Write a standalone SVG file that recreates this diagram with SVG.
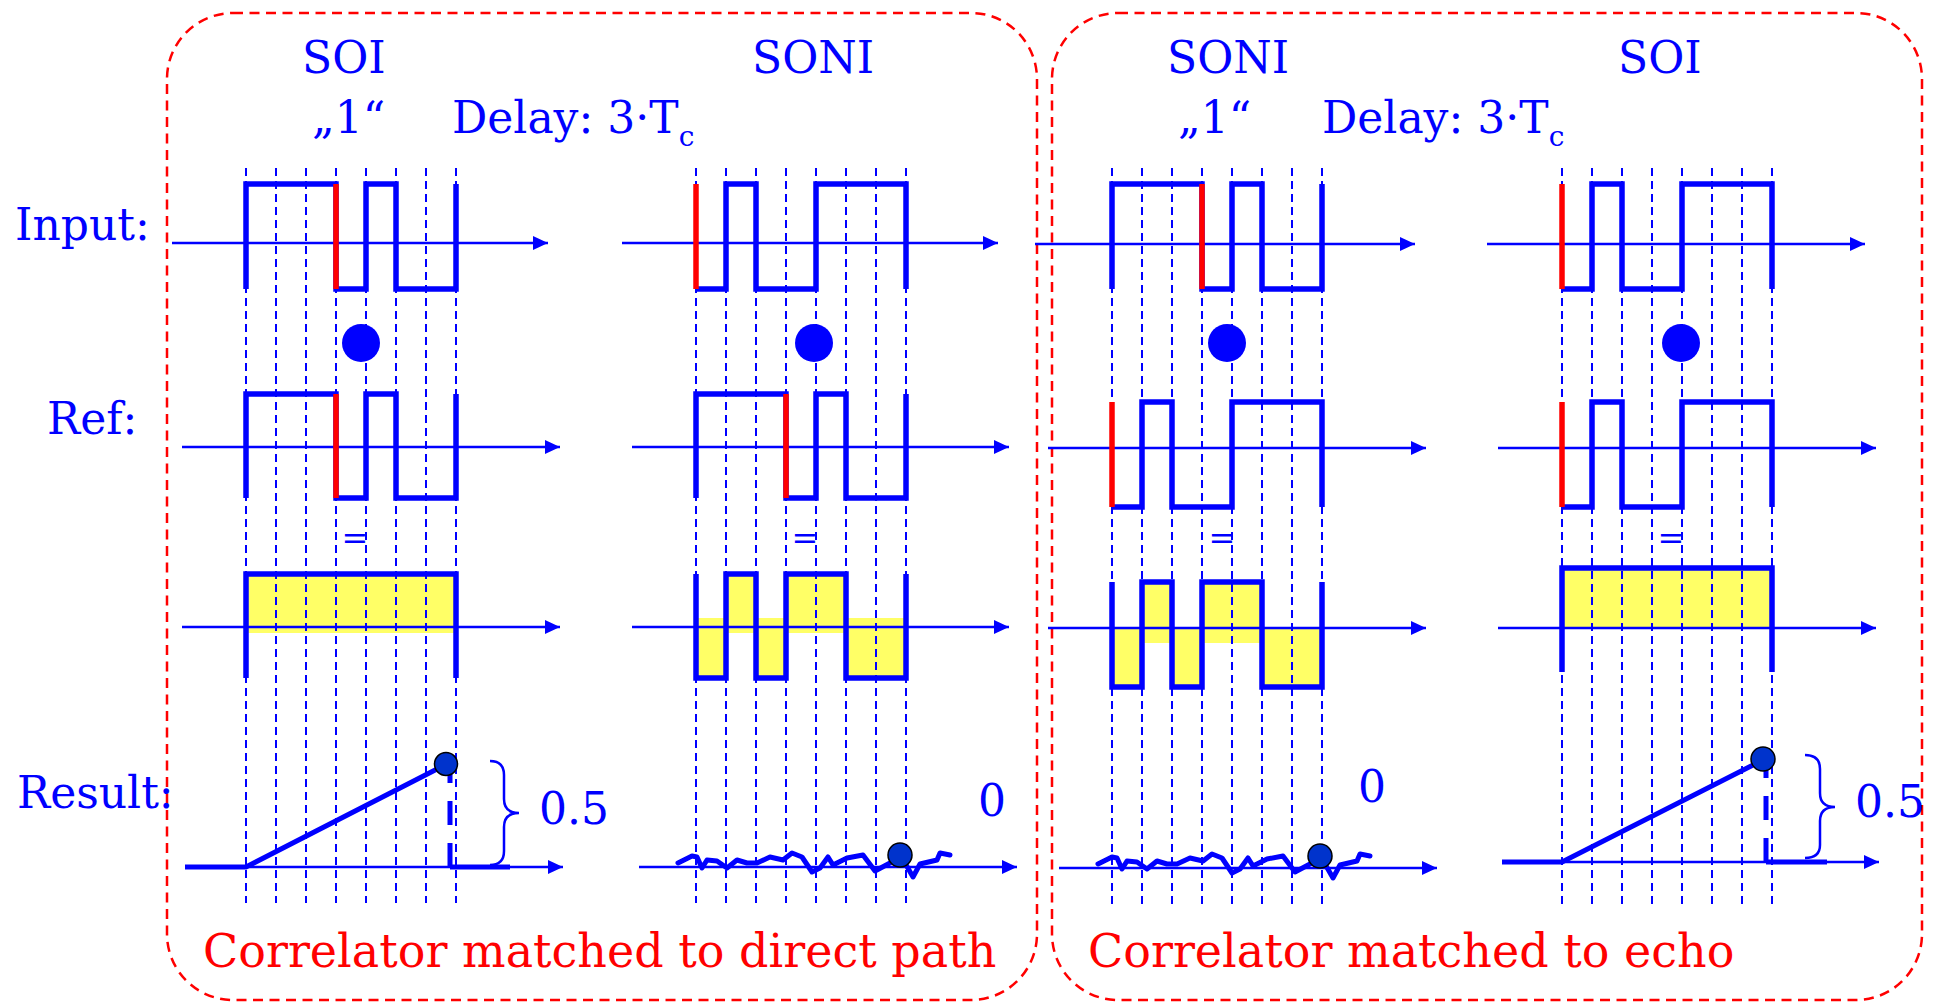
<svg xmlns="http://www.w3.org/2000/svg" width="1937" height="1003" viewBox="0 0 1937 1003">
<defs>
<marker id="arr" markerUnits="userSpaceOnUse" markerWidth="16" markerHeight="14" refX="15" refY="7" orient="auto"><path d="M0,0 L15,7 L0,14 z" fill="#0000ff"/></marker>
<style>
.box{fill:none;stroke:#ff0000;stroke-width:2.5;stroke-dasharray:10 6.5}
.grid{stroke:#0000ff;stroke-width:2;stroke-dasharray:8 5}
.ax{stroke:#0000ff;stroke-width:2.5;marker-end:url(#arr)}
.wave{fill:none;stroke:#0000ff;stroke-width:5.5;stroke-linejoin:miter;stroke-linecap:butt}
.red{stroke:#ff0000;stroke-width:5.5}
.yel{fill:#ffff66}
.mul{fill:#0000ff}
.t{font-family:"DejaVu Serif","Liberation Serif",serif;font-size:44px;fill:#0000ff}
.eq{font-family:"DejaVu Serif","Liberation Serif",serif;font-size:32px;fill:#0000ff;text-anchor:middle}
.cap{font-family:"DejaVu Serif","Liberation Serif",serif;font-size:46px;fill:#ff0000}
.thick{stroke:#0000ff;stroke-width:5;fill:none}
.tdash{stroke:#0000ff;stroke-width:5;stroke-dasharray:24 18}
.rdot{fill:#0033cc;stroke:#000;stroke-width:1.5}
.noise{fill:none;stroke:#0000ff;stroke-width:5;stroke-linejoin:round;stroke-linecap:round}
.brace{fill:none;stroke:#0000ff;stroke-width:2.5}
</style>
</defs>

<g id="frames">
<rect class="box" x="167" y="13" width="870" height="987" rx="66" ry="66"/>
<rect class="box" x="1052" y="13" width="870" height="987" rx="66" ry="66"/>
</g>

<g id="row-labels">
<text class="t" x="15" y="240">Input:</text>
<text class="t" x="47" y="434">Ref:</text>
<text class="t" x="17" y="808">Result:</text>
</g>

<g id="headers">
<text class="t" x="302" y="73">SOI</text>
<text class="t" x="312" y="133">„1“</text>
<text class="t" x="452" y="133">Delay: 3·T<tspan font-size="28" dy="13">c</tspan></text>
<text class="t" x="752" y="73">SONI</text>
<text class="t" x="1167" y="73">SONI</text>
<text class="t" x="1178" y="133">„1“</text>
<text class="t" x="1322" y="133">Delay: 3·T<tspan font-size="28" dy="13">c</tspan></text>
<text class="t" x="1618" y="73">SOI</text>
</g>

<!-- Panel 1 -->
<g id="panel1">
<rect class="yel" x="246" y="574" width="210" height="59"/>
<g class="grid">
<line x1="246" y1="168" x2="246" y2="903"/><line x1="276" y1="168" x2="276" y2="903"/><line x1="306" y1="168" x2="306" y2="903"/><line x1="336" y1="168" x2="336" y2="903"/><line x1="366" y1="168" x2="366" y2="903"/><line x1="396" y1="168" x2="396" y2="903"/><line x1="426" y1="168" x2="426" y2="903"/><line x1="456" y1="168" x2="456" y2="903"/>
</g>
<line class="ax" x1="172" y1="243" x2="548" y2="243"/>
<path class="wave" d="M246 289 V184 H336 V289 H366 V184 H396 V289 H456 V184"/>
<line class="red" x1="336" y1="184" x2="336" y2="289"/>
<circle class="mul" cx="361" cy="343" r="19"/>
<line class="ax" x1="182" y1="447" x2="560" y2="447"/>
<path class="wave" d="M246 498 V394 H336 V498 H366 V394 H396 V498 H456 V394"/>
<line class="red" x1="336" y1="394" x2="336" y2="498"/>
<text class="eq" x="355" y="549">=</text>
<line class="ax" x1="182" y1="627" x2="560" y2="627"/>
<path class="wave" d="M246 678 V574 H456 V678"/>
<line class="ax" x1="185" y1="867" x2="563" y2="867"/>
<path class="thick" d="M185 867 H246 L441 767"/>
<line class="tdash" x1="450" y1="867" x2="450" y2="770"/>
<line class="thick" x1="450" y1="867" x2="510" y2="867"/>
<circle class="rdot" cx="446" cy="764" r="11.5"/>
<path class="brace" d="M490 761 Q504 761 504 775 L504 799 Q504 813 519 813 Q504 813 504 827 L504 851 Q504 865 490 865"/>
<text class="t" x="539" y="824">0.5</text>
</g>

<!-- Panel 2 -->
<g id="panel2">
<rect class="yel" x="696" y="618" width="30" height="60"/>
<rect class="yel" x="726" y="574" width="30" height="59"/>
<rect class="yel" x="756" y="618" width="30" height="60"/>
<rect class="yel" x="786" y="574" width="60" height="59"/>
<rect class="yel" x="846" y="618" width="60" height="60"/>
<g class="grid">
<line x1="696" y1="168" x2="696" y2="903"/><line x1="726" y1="168" x2="726" y2="903"/><line x1="756" y1="168" x2="756" y2="903"/><line x1="786" y1="168" x2="786" y2="903"/><line x1="816" y1="168" x2="816" y2="903"/><line x1="846" y1="168" x2="846" y2="903"/><line x1="876" y1="168" x2="876" y2="903"/><line x1="906" y1="168" x2="906" y2="903"/>
</g>
<line class="ax" x1="622" y1="243" x2="998" y2="243"/>
<path class="wave" d="M696 289 H726 V184 H756 V289 H816 V184 H906 V289"/>
<line class="red" x1="696" y1="184" x2="696" y2="289"/>
<circle class="mul" cx="814" cy="343" r="19"/>
<line class="ax" x1="632" y1="447" x2="1009" y2="447"/>
<path class="wave" d="M696 498 V394 H786 V498 H816 V394 H846 V498 H906 V394"/>
<line class="red" x1="786" y1="394" x2="786" y2="498"/>
<text class="eq" x="805" y="549">=</text>
<line class="ax" x1="632" y1="627" x2="1009" y2="627"/>
<path class="wave" d="M696 574 V678 H726 V574 H756 V678 H786 V574 H846 V678 H906 V574"/>
<line class="ax" x1="639" y1="867" x2="1017" y2="867"/>
<path id="noise" class="noise" d="M678 863 L692 856 L697 857 L702 868 L707 860 L717 861 L727 868 L737 860 L747 863 L757 863 L770 857 L783 860 L792 853 L802 857 L812 872 L820 868 L828 857 L833 865 L847 858 L863 855 L875 871 L890 863 L897 857 L905 863 L913 877 L920 864 L937 860 L940 853 L950 855"/>
<circle class="rdot" cx="900" cy="855" r="12"/>
<text class="t" x="978" y="816">0</text>
</g>

<!-- Panel 3 -->
<g id="panel3">
<rect class="yel" x="1112" y="628" width="30" height="59"/>
<rect class="yel" x="1142" y="582" width="30" height="61"/>
<rect class="yel" x="1172" y="628" width="30" height="59"/>
<rect class="yel" x="1202" y="582" width="60" height="61"/>
<rect class="yel" x="1262" y="628" width="60" height="59"/>
<g class="grid">
<line x1="1112" y1="168" x2="1112" y2="904"/><line x1="1142" y1="168" x2="1142" y2="904"/><line x1="1172" y1="168" x2="1172" y2="904"/><line x1="1202" y1="168" x2="1202" y2="904"/><line x1="1232" y1="168" x2="1232" y2="904"/><line x1="1262" y1="168" x2="1262" y2="904"/><line x1="1292" y1="168" x2="1292" y2="904"/><line x1="1322" y1="168" x2="1322" y2="904"/>
</g>
<line class="ax" x1="1035" y1="244" x2="1415" y2="244"/>
<path class="wave" d="M1112 289 V184 H1202 V289 H1232 V184 H1262 V289 H1322 V184"/>
<line class="red" x1="1202" y1="184" x2="1202" y2="289"/>
<circle class="mul" cx="1227" cy="343" r="19"/>
<line class="ax" x1="1048" y1="448" x2="1426" y2="448"/>
<path class="wave" d="M1112 507 H1142 V402 H1172 V507 H1232 V402 H1322 V507"/>
<line class="red" x1="1112" y1="402" x2="1112" y2="507"/>
<text class="eq" x="1222" y="549">=</text>
<line class="ax" x1="1048" y1="628" x2="1426" y2="628"/>
<path class="wave" d="M1112 582 V687 H1142 V582 H1172 V687 H1202 V582 H1262 V687 H1322 V582"/>
<line class="ax" x1="1059" y1="868" x2="1437" y2="868"/>
<use href="#noise" transform="translate(420,1)"/>
<circle class="rdot" cx="1320" cy="856" r="12"/>
<text class="t" x="1358" y="802">0</text>
</g>

<!-- Panel 4 -->
<g id="panel4">
<rect class="yel" x="1562" y="568" width="210" height="60"/>
<g class="grid">
<line x1="1562" y1="168" x2="1562" y2="904"/><line x1="1592" y1="168" x2="1592" y2="904"/><line x1="1622" y1="168" x2="1622" y2="904"/><line x1="1652" y1="168" x2="1652" y2="904"/><line x1="1682" y1="168" x2="1682" y2="904"/><line x1="1712" y1="168" x2="1712" y2="904"/><line x1="1742" y1="168" x2="1742" y2="904"/><line x1="1772" y1="168" x2="1772" y2="904"/>
</g>
<line class="ax" x1="1487" y1="244" x2="1865" y2="244"/>
<path class="wave" d="M1562 289 H1592 V184 H1622 V289 H1682 V184 H1772 V289"/>
<line class="red" x1="1562" y1="184" x2="1562" y2="289"/>
<circle class="mul" cx="1681" cy="343" r="19"/>
<line class="ax" x1="1498" y1="448" x2="1876" y2="448"/>
<path class="wave" d="M1562 507 H1592 V402 H1622 V507 H1682 V402 H1772 V507"/>
<line class="red" x1="1562" y1="402" x2="1562" y2="507"/>
<text class="eq" x="1671" y="549">=</text>
<line class="ax" x1="1498" y1="628" x2="1876" y2="628"/>
<path class="wave" d="M1562 672 V568 H1772 V672"/>
<line class="ax" x1="1502" y1="862" x2="1879" y2="862"/>
<path class="thick" d="M1502 862 H1562 L1757 763"/>
<line class="tdash" x1="1766" y1="862" x2="1766" y2="766"/>
<line class="thick" x1="1766" y1="862" x2="1827" y2="862"/>
<circle class="rdot" cx="1763" cy="759" r="12"/>
<path class="brace" d="M1805 755 Q1820 755 1820 769 L1820 793 Q1820 807 1835 807 Q1820 807 1820 821 L1820 845 Q1820 858 1805 858"/>
<text class="t" x="1855" y="817">0.5</text>
</g>

<g id="captions">
<text class="cap" x="203" y="967">Correlator matched to direct path</text>
<text class="cap" x="1088" y="967">Correlator matched to echo</text>
</g>
</svg>
